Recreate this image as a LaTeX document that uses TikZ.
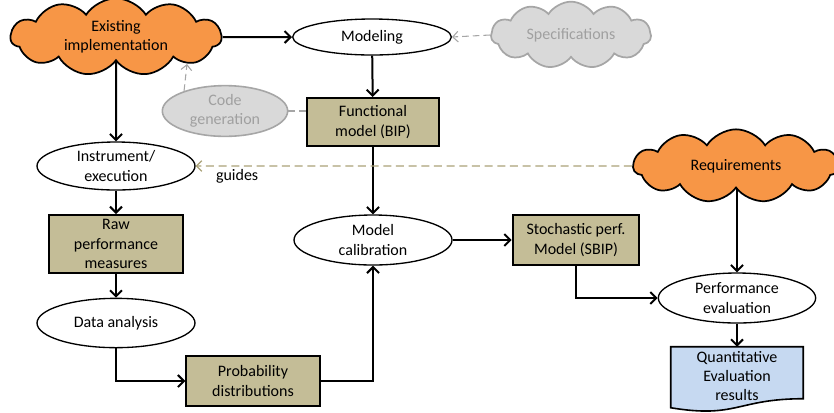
\documentclass[tikz,border=0pt]{standalone}
\usepackage{fontspec}
\setmainfont{Carlito}
\usetikzlibrary{shapes.symbols,shapes.geometric,arrows.meta,calc,backgrounds}
\definecolor{cloudorange}{RGB}{247,150,70}
\definecolor{tanbox}{RGB}{196,189,151}
\definecolor{gfill}{RGB}{217,217,217}
\definecolor{gborder}{RGB}{166,166,166}
\definecolor{gtext}{RGB}{160,160,160}
\definecolor{guidecol}{RGB}{170,162,120}
\definecolor{docblue}{RGB}{198,217,241}
\begin{document}
\begin{tikzpicture}[x=0.75pt,y=-0.75pt,
  font=\fontsize{12}{14.5}\selectfont,
  every node/.style={align=center, inner sep=1pt},
  proc/.style={ellipse, draw=black, line width=1pt, fill=white},
  gproc/.style={ellipse, draw=gborder, line width=1.2pt, fill=gfill, text=gtext},
  box/.style={rectangle, draw=black, line width=1.5pt, fill=tanbox},
  cloudbase/.style={cloud, cloud ignores aspect, cloud puffs=11, cloud puff arc=115, line width=1.3pt},
  cloudy/.style={cloudbase, draw=black, fill=cloudorange},
  gcloud/.style={cloudbase, draw=gborder, fill=gfill, text=gtext},
  flow/.style={line width=1.5pt, -{Straight Barb[length=4.5pt,width=9pt]}},
  gline/.style={draw=gborder, line width=0.8pt, dash pattern=on 5pt off 3pt},
  gflow/.style={gline, -{Straight Barb[length=4pt,width=8pt]}},
  guide/.style={draw=guidecol, line width=0.9pt, dash pattern=on 6pt off 3.5pt, -{Straight Barb[length=4pt,width=8pt]}}]
\useasboundingbox (0,0) rectangle (834,412);

\node[cloudy, minimum width=158pt, minimum height=58pt] (exist) at (116,37) {Existing\\implementation};
\node[proc, minimum width=119pt, minimum height=27pt] (mod) at (372,37) {Modeling};
\node[gcloud, minimum width=120pt, minimum height=50pt] (spec) at (571,35) {Specifications};
\node[box, minimum width=99pt, minimum height=36pt] (func) at (373,122) {Functional\\model (BIP)};
\node[gproc, minimum width=94pt, minimum height=34.5pt] (codegen) at (225,111) {Code\\generation};
\node[proc, minimum width=118.5pt, minimum height=36pt] (instr) at (116,166) {Instrument/\\execution};
\node[box, minimum width=100pt, minimum height=43.5pt] (raw) at (116,244) {Raw\\performance\\measures};
\node[proc, minimum width=118.5pt, minimum height=37pt] (data) at (116,323) {Data analysis};
\node[box, minimum width=100pt, minimum height=37.5pt] (prob) at (253,381) {Probability\\distributions};
\node[proc, minimum width=118.5pt, minimum height=37.5pt] (calib) at (373,240) {Model\\calibration};
\node[box, minimum width=95pt, minimum height=37.5pt] (stoch) at (576,240) {Stochastic perf.\\Model (SBIP)};
\node[cloudy, minimum width=154pt, minimum height=55pt] (req) at (736,166) {Requirements};
\node[proc, minimum width=118pt, minimum height=37.5pt] (perf) at (737,298) {Performance\\evaluation};
\node[minimum width=99pt, minimum height=43.5pt] (quant) at (737,376) {Quantitative\\Evaluation\\results};
\coordinate (cgtip) at (187,64);

\begin{scope}[on background layer]
\draw[line width=1.2pt, fill=docblue] (quant.north west) -- (quant.north east)
  -- ($(quant.north east)+(0,52)$)
  .. controls ($(quant.north)+(0,52)$) and ($(quant.north)+(0,72)$) .. ($(quant.north west)+(0,61)$) -- cycle;
\end{scope}

\draw[flow] (exist.east) -- (mod.west);
\draw[flow] (exist.south) -- (instr.north);
\draw[gflow] (spec.west) -- (mod.east);
\draw[flow] (mod) -- (func);
\draw[gline] (codegen.east) -- (codegen.east -| func.west);
\draw[gflow] (codegen.154) -- (cgtip);
\draw[flow] (instr) -- (raw);
\draw[flow] (raw) -- (data);
\draw[flow] (data.south) |- (prob.west);
\draw[flow] (prob.east) -| (calib.south);
\draw[flow] (func) -- (calib);
\draw[flow] (calib) -- (stoch);
\draw[guide] (req.west) -- node[pos=0.905, below=1pt, text=black] {guides} (instr.east);
\draw[flow] (perf.north |- req.south) -- (perf.north);
\draw[flow] (stoch.south) |- (perf.west);
\draw[flow] (perf) -- (quant.north);
\end{tikzpicture}
\end{document}
